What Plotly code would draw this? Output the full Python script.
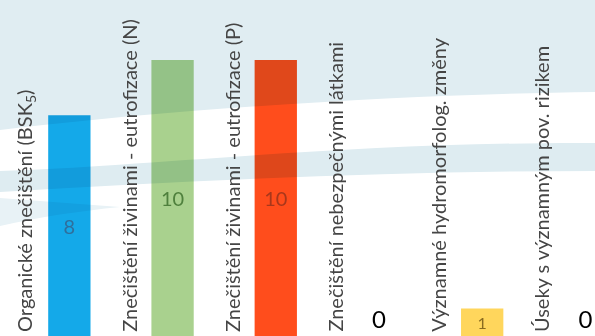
import plotly.graph_objects as go

# Pressure categories and counts of affected water bodies
categories = [
    "Organické znečištění (BSK<sub>5</sub>)",
    "Znečištění živinami - eutrofizace (N)",
    "Znečištění živinami - eutrofizace (P)",
    "Znečištění nebezpečnými látkami",
    "Významné hydromorfolog. změny",
    "Úseky s významným pov. rizikem",
]
values = [8, 10, 10, 0, 1, 0]

bar_colors = ["#14a9e9", "#a9d18e", "#ff4d1c", "#bfbfbf", "#ffd65c", "#bfbfbf"]
value_colors = ["#2f6f9c", "#4f803d", "#a8371b", "#000000", "#8a6b1f", "#000000"]
value_sizes = [20, 20, 20, 24, 16, 24]
value_positions = ["inside" if v > 0 else "outside" for v in values]

W, H = 595, 336


def P(x, y):
    """Pixel position -> paper coordinates string for SVG paths."""
    return f"{x / W:.4f},{1 - y / H:.4f}"


# Decorative wave bands of the slide background
top_band = (f"M{P(0, 0)} L{P(595, 0)} L{P(595, 92)} "
            f"C{P(430, 94)} {P(200, 106)} {P(0, 130)} Z")
mid_stripe = (f"M{P(0, 171)} C{P(150, 166)} {P(350, 142)} {P(595, 143)} "
              f"L{P(595, 171)} C{P(400, 171)} {P(200, 180)} {P(0, 192)} Z")
left_wedge = (f"M{P(0, 198)} C{P(40, 201)} {P(80, 204)} {P(120, 207)} "
              f"C{P(80, 211)} {P(40, 217)} {P(0, 226)} Z")

wave_shapes = [
    dict(type="path", path=top_band, xref="paper", yref="paper",
         fillcolor="rgb(224,237,242)", line=dict(width=0), layer="above"),
    dict(type="path", path=mid_stripe, xref="paper", yref="paper",
         fillcolor="rgb(222,236,241)", line=dict(width=0), layer="above"),
    dict(type="path", path=left_wedge, xref="paper", yref="paper",
         fillcolor="rgb(232,242,246)", line=dict(width=0), layer="above"),
]

fig = go.Figure()
fig.add_trace(go.Bar(
    x=categories,
    y=values,
    width=0.41,
    marker=dict(color=bar_colors, line=dict(width=0)),
    text=[str(v) for v in values],
    textposition=value_positions,
    insidetextanchor="middle",
    textangle=0,
    textfont=dict(family="Lato", color=value_colors, size=value_sizes),
    cliponaxis=False,
    hoverinfo="skip",
))

# Vertical category captions beside each bar
annotations = []
for i, name in enumerate(categories):
    annotations.append(dict(
        x=i - 0.43, xref="x", y=0, yref="paper",
        xanchor="center", yanchor="bottom", yshift=2,
        text=name, textangle=-90, showarrow=False,
        font=dict(family="Lato", size=20, color="#454545"),
    ))

fig.update_layout(
    width=W, height=H,
    margin=dict(l=0, r=0, t=0, b=0),
    paper_bgcolor="white",
    plot_bgcolor="rgba(0,0,0,0)",
    showlegend=False,
    xaxis=dict(type="category", range=[-0.672, 5.093], visible=False),
    yaxis=dict(range=[0, 12.17], visible=False),
    shapes=wave_shapes,
    annotations=annotations,
)

# Background bands tint the bars beneath them like a multiply blend
blend_js = (
    "var gd=document.getElementById('{plot_id}');"
    "function tint(){gd.querySelectorAll('.layer-above .shapelayer path')"
    ".forEach(function(p){p.style.mixBlendMode='multiply';});}"
    "tint(); gd.on('plotly_afterplot', tint);"
)

fig.write_html("out.html", post_script=blend_js)
